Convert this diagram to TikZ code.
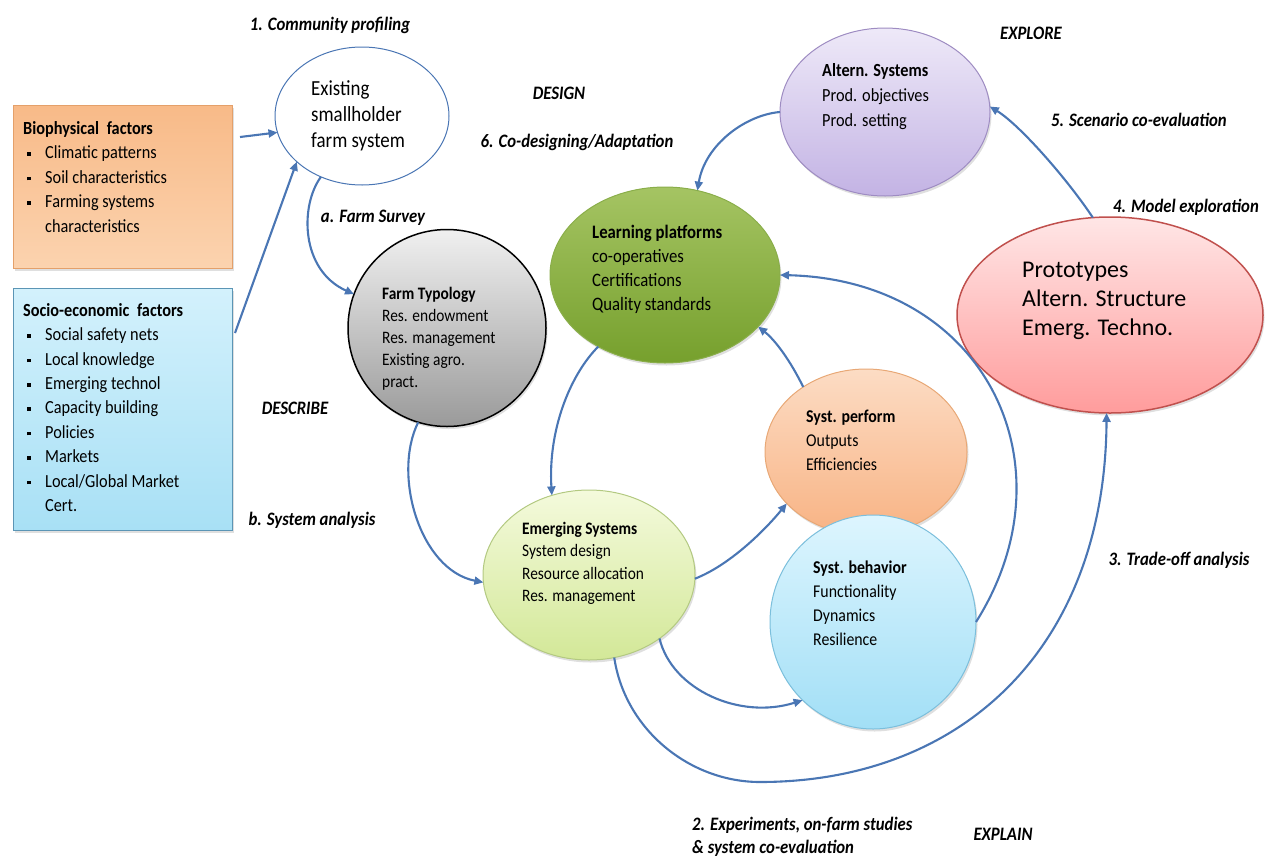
\documentclass[tikz,border=0pt]{standalone}
\usepackage{fontspec}
\setmainfont{Carlito}[FakeStretch=0.88]
\newfontfamily\protofont{Carlito}
\usetikzlibrary{shapes.geometric,arrows.meta,shadows}
\definecolor{arrowblue}{HTML}{4A76B4}
\definecolor{bioT}{HTML}{F8BA88}\definecolor{bioB}{HTML}{FBD3AF}\definecolor{bioD}{HTML}{E4A06A}
\definecolor{socT}{HTML}{D3F1FC}\definecolor{socB}{HTML}{A8E0F5}\definecolor{socD}{HTML}{5B95B5}
\definecolor{typT}{HTML}{F0F0F0}\definecolor{typB}{HTML}{9A9A9A}
\definecolor{learnT}{HTML}{A5C463}\definecolor{learnB}{HTML}{76A02D}\definecolor{learnD}{HTML}{8AAE4A}
\definecolor{altT}{HTML}{EEE9F8}\definecolor{altB}{HTML}{C3B3E4}\definecolor{altD}{HTML}{9E8CC2}
\definecolor{protoT}{HTML}{FFE6E6}\definecolor{protoB}{HTML}{FF9C9C}\definecolor{protoD}{HTML}{C0504D}
\definecolor{perfT}{HTML}{FCDCC4}\definecolor{perfB}{HTML}{F8B384}\definecolor{perfD}{HTML}{E8A876}
\definecolor{behT}{HTML}{DDF5FE}\definecolor{behB}{HTML}{A2DFF6}\definecolor{behD}{HTML}{7BBFDC}
\definecolor{emT}{HTML}{F4FADC}\definecolor{emB}{HTML}{D3E898}\definecolor{emD}{HTML}{B3C981}
\newcommand{\itm}{\makebox[22pt][l]{\hspace{4pt}\raisebox{3pt}{\rule{3.5pt}{3.5pt}}}}
\begin{document}
\begin{tikzpicture}[x=1pt,y=-1pt,
		flow/.style={draw=arrowblue,line width=2.1pt,-{Triangle[length=9pt,width=8pt]}},
		oval/.style={ellipse,inner sep=0pt,outer sep=0pt,line width=1pt},
		panel/.style={rectangle,inner sep=0pt,line width=1pt,anchor=north west},
		soft/.style={drop shadow={opacity=0.25,shadow xshift=1.5pt,shadow yshift=-2.5pt}},
		txt/.style={anchor=west,align=left,inner sep=0pt},
		lbl/.style={inner sep=0pt,font=\fontsize{19}{23}\selectfont\bfseries\itshape}]
	\useasboundingbox (0,0) rectangle (1268,857);
	\node[panel,soft,top color=bioT,bottom color=bioB,draw=bioD,minimum width=219pt,minimum height=163pt](bio) at (13,105){};
	\node[panel,soft,top color=socT,bottom color=socB,draw=socD,minimum width=219pt,minimum height=242pt](socio) at (13,288){};
	\node[txt,font=\fontsize{18.5}{24.5}\selectfont](biotxt) at (23,177){\textbf{Biophysical\hspace{4pt} factors}\\\itm Climatic patterns\\\itm Soil characteristics\\\itm Farming systems\\\hspace*{22pt}characteristics};
	\node[txt,font=\fontsize{18.5}{24.4}\selectfont](soctxt) at (23,407.5){\textbf{Socio-economic\hspace{4pt} factors}\\\itm Social safety nets\\\itm Local knowledge\\\itm Emerging technol\\\itm Capacity building\\\itm Policies\\\itm Markets\\\itm Local/Global Market\\\hspace*{22pt}Cert.};
	\node[oval,draw=arrowblue,fill=white,minimum width=174pt,minimum height=138pt](exist) at (362,116){};
	\node[oval,soft,draw=black,line width=1.5pt,top color=typT,bottom color=typB,minimum width=198pt,minimum height=197pt](typo) at (447,328){};
	\node[oval,soft,draw=learnD,top color=learnT,bottom color=learnB,minimum width=230pt,minimum height=176pt](learn) at (665,275){};
	\node[oval,soft,draw=altD,top color=altT,bottom color=altB,minimum width=210pt,minimum height=168pt](altern) at (885,112){};
	\node[oval,soft,draw=protoD,line width=1.5pt,top color=protoT,bottom color=protoB,minimum width=306pt,minimum height=196pt](proto) at (1110,315){};
	\node[oval,soft,draw=perfD,top color=perfT,bottom color=perfB,minimum width=202pt,minimum height=166pt](perf) at (866,452){};
	\node[oval,soft,draw=behD,top color=behT,bottom color=behB,minimum width=206pt,minimum height=214pt](behav) at (873,622){};
	\node[oval,soft,draw=emD,top color=emT,bottom color=emB,minimum width=212pt,minimum height=170pt](emerg) at (589,575){};
	\node[txt,font=\fontsize{21.5}{26}\selectfont](existtxt) at (311,116){Existing\\smallholder\\farm system};
	\node[txt,font=\fontsize{17.5}{22}\selectfont](typotxt) at (382,339){\textbf{Farm Typology}\\Res. endowment\\Res. management\\Existing agro.\\pract.};
	\node[txt,font=\fontsize{19}{24}\selectfont](learntxt) at (592,269){\textbf{Learning platforms}\\co-operatives\\Certifications\\Quality standards};
	\node[txt,font=\fontsize{18.5}{25}\selectfont](alttxt) at (822,97){\textbf{Altern. Systems}\\Prod. objectives\\Prod. setting};
	\node[txt,font=\protofont\fontsize{24}{29}\selectfont](prototxt) at (1022,301){Prototypes\\Altern. Structure\\Emerg. Techno.};
	\node[txt,font=\fontsize{18}{24}\selectfont](perftxt) at (806,440){\textbf{Syst. perform}\\Outputs\\Efficiencies};
	\node[txt,font=\fontsize{18}{24}\selectfont](behtxt) at (813,603){\textbf{Syst. behavior}\\Functionality\\Dynamics\\Resilience};
	\node[txt,font=\fontsize{17.5}{22.3}\selectfont](emtxt) at (522,563.5){\textbf{Emerging Systems}\\System design\\Resource allocation\\Res. management};
	\node[lbl](l1) at (330,25){1. Community profiling};
	\node[lbl](design) at (559,93){DESIGN};
	\node[lbl](l6) at (577,142){6. Co-designing/Adaptation};
	\node[lbl](la) at (373,218){a. Farm Survey};
	\node[lbl](describe) at (295,408){DESCRIBE};
	\node[lbl](lb) at (312,520){b. System analysis};
	\node[lbl](explore) at (1031,33){EXPLORE};
	\node[lbl](l5) at (1139,120){5. Scenario co-evaluation};
	\node[lbl](l4) at (1186,207){4. Model exploration};
	\node[lbl](l3) at (1179,560){3. Trade-off analysis};
	\node[lbl,anchor=west,align=left](l2) at (692,837){2. Experiments, on-farm studies\\\& system co-evaluation};
	\node[lbl](explain) at (1003,834){EXPLAIN};
	\draw[flow]([xshift=7pt,yshift=-32pt]bio.north east)--(exist.191);
	\draw[flow]([xshift=2pt,yshift=-45pt]socio.north east)--(exist.215);
	\draw[flow](exist.236) .. controls (300,205) and (300,270) .. (typo.160);
	\draw[flow](typo.253) .. controls (392,475) and (420,570) .. (emerg.184);
	\draw[flow](learn.227) .. controls (570,375) and (548,430) .. (emerg.115);
	\draw[flow](emerg.358) .. controls (730,565) and (765,530) .. (perf.213);
	\draw[flow](emerg.318) .. controls (672,690) and (740,720) .. (behav.228);
	\draw[flow](emerg.287) .. controls (625,730) and (690,782) .. (760,782) .. controls (960,782) and (1105,650) .. (proto.268);
	\draw[flow](perf.134) .. controls (790,360) and (775,340) .. (learn.331);
	\draw[flow](behav.east) .. controls (1075,465) and (985,280) .. (learn.east);
	\draw[flow](altern.west) .. controls (745,115) and (705,145) .. (learn.69);
	\draw[flow](proto.100) .. controls (1068,180) and (1020,125) .. (altern.3);
\end{tikzpicture}
\end{document}
